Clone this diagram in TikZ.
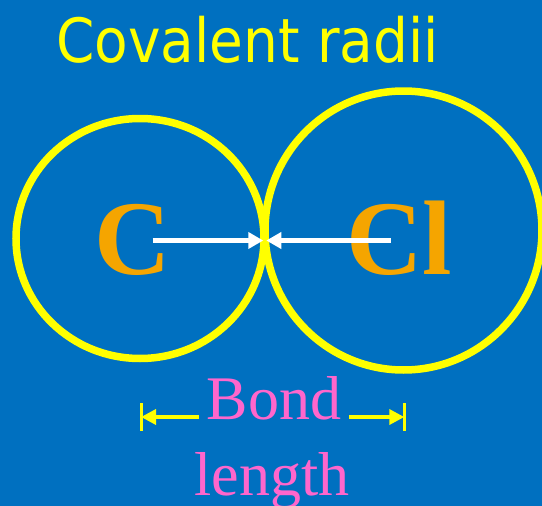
\documentclass[tikz,border=0pt]{standalone}
\usepackage{fontspec}
\setmainfont{Liberation Serif}
\newfontfamily\titlefont{DejaVu Sans Condensed}
\usetikzlibrary{arrows.meta, shapes.geometric, positioning}
\definecolor{cBack}{RGB}{0,112,192}
\definecolor{cShell}{RGB}{255,255,0}
\definecolor{cAtom}{RGB}{245,165,0}
\definecolor{cPink}{RGB}{255,102,204}
\tikzset{
	shell/.style   ={ellipse, draw=cShell, line width=7.5pt, inner sep=0pt},
	atom/.style    ={text=cAtom, font=\fontsize{106}{106}\selectfont\bfseries, inner sep=0pt, anchor=base},
	label/.style   ={text=cPink, font=\fontsize{62}{62}\selectfont, inner ysep=0pt, inner xsep=8pt, anchor=base},
	radarrow/.style={-{Triangle[length=15pt, width=16pt]}, white, line width=5.5pt},
	dimarrow/.style={-{Triangle[length=15pt, width=15pt]}, cShell, line width=3.5pt},
	dimbar/.style  ={cShell, line width=3pt},
}
\begin{document}
\begin{tikzpicture}[x=1pt, y=-1pt]
	% background
	\useasboundingbox (0,0) rectangle (542,506);
	\fill[cBack] (0,0) rectangle (542,506);
	\clip (0,0) rectangle (542,506);
	% title
	\node[text=cShell, font=\titlefont\fontsize{61}{61}\selectfont, inner sep=0pt, anchor=base] (title) at (247.75,62) {Covalent radii};
	% shells
	\node[shell, minimum width=248pt, minimum height=240pt] (shellC) at (140,238.5) {};
	\node[shell, minimum width=277pt, minimum height=279pt] (shellCl) at (403.5,230.5) {};
	% atoms
	\node[atom] (atomC) at (132.5,274) {C};
	\node[atom] (atomCl) at (399,274) {Cl};
	% radii
	\coordinate (cC) at (152.7,240.5);
	\coordinate (cCl) at (390.7,240.5);
	\coordinate (touch) at (264.8,240.5);
	\draw[radarrow] (cC) -- ([xshift=-1.5pt]touch);
	\draw[radarrow] (cCl) -- ([xshift=1.5pt]touch);
	% bond length
	\node[label] (bond) at (274,419) {Bond};
	\node[label] (length) at (272,495) {length};
	\coordinate (dimL) at (141,417);
	\coordinate (dimR) at (404.3,417);
	\draw[dimarrow] ([yshift=2pt]bond.base west) -- (dimL);
	\draw[dimarrow] ([yshift=2pt]bond.base east) -- (dimR);
	\draw[dimbar] ([yshift=14pt]dimL) -- ([yshift=-14pt]dimL);
	\draw[dimbar] ([yshift=14pt]dimR) -- ([yshift=-14pt]dimR);
\end{tikzpicture}
\end{document}
